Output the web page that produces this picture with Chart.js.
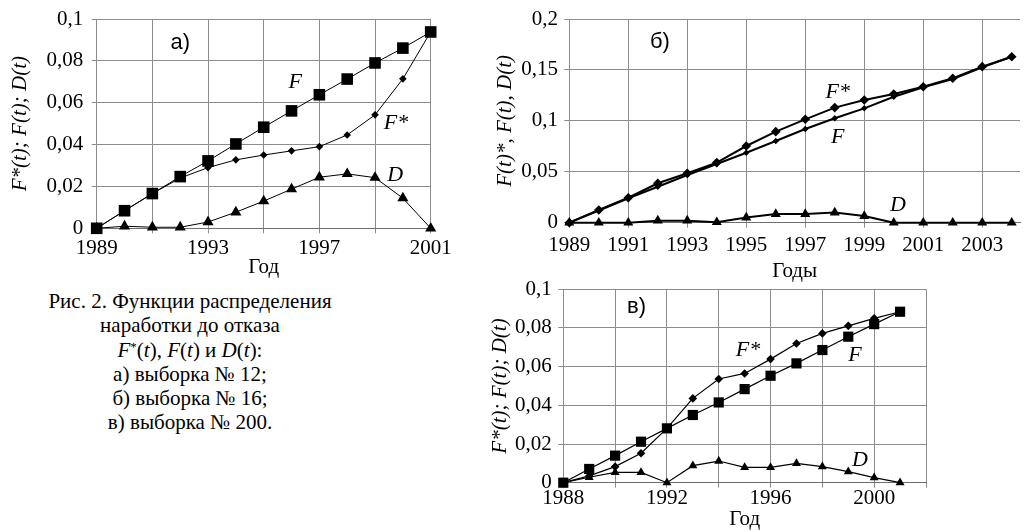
<!DOCTYPE html>
<html>
<head>
<meta charset="utf-8">
<script src="https://cdn.jsdelivr.net/npm/chart.js@4"></script>
<style>
  html, body { margin:0; padding:0; background:#fff; }
  body { width:1032px; height:532px; position:relative; overflow:hidden; }
  canvas { position:absolute; }
  #cap { position:absolute; left:40px; width:300px; top:289px; text-align:center;
         font-family:"Liberation Serif","DejaVu Serif","Noto Serif",serif; font-size:21px; line-height:24.3px; color:#000; }
  #cap sup { font-size:13px; vertical-align:top; position:relative; top:-3px; }
  #probe { position:absolute; left:-9999px; top:0; }
</style>
</head>
<body>
<canvas id="ca" width="460" height="285" style="left:0;top:0"></canvas>
<canvas id="cb" width="552" height="285" style="left:480px;top:0"></canvas>
<canvas id="cc" width="470" height="262" style="left:480px;top:270px"></canvas>
<div id="cap">Рис. 2. Функции распределения<br>наработки до отказа<br><i>F</i><sup>*</sup>(<i>t</i>), <i>F</i>(<i>t</i>) и <i>D</i>(<i>t</i>):<br>а) выборка № 12;<br>б) выборка № 16;<br>в) выборка № 200.</div>
<script>
// ---- Chart а) выборка № 12 ----
const yearsA  = [1989,1990,1991,1992,1993,1994,1995,1996,1997,1998,1999,2000,2001];
const FstarA  = [0,0.0084,0.0166,0.024,0.029,0.0327,0.035,0.037,0.039,0.0446,0.0542,0.0714,0.0938];
const FA      = [0,0.0084,0.0166,0.0247,0.0322,0.0403,0.0483,0.0561,0.0638,0.0713,0.079,0.0861,0.0938];
const DA      = [0,0.001,0.0005,0.0005,0.003,0.0077,0.013,0.0187,0.0244,0.026,0.0242,0.0144,0];
const xLabelsA = [1989,1993,1997,2001];
const yTicksA  = [0,0.02,0.04,0.06,0.08,0.1];

// ---- Chart б) выборка № 16 ----
const yearsB  = [1989,1990,1991,1992,1993,1994,1995,1996,1997,1998,1999,2000,2001,2002,2003,2004];
const FstarB  = [0,0.0125,0.0245,0.0387,0.0485,0.059,0.0753,0.0894,0.1015,0.113,0.1205,0.1264,0.1335,0.1418,0.1532,0.163];
const FB      = [0,0.012,0.024,0.0353,0.0468,0.0576,0.0687,0.0802,0.092,0.1025,0.1123,0.1237,0.133,0.141,0.1526,0.163];
const DB      = [0,0,0,0.002,0.002,0.0005,0.005,0.0085,0.0085,0.01,0.0065,0,0,0,0,0];
const xLabelsB = [1989,1991,1993,1995,1997,1999,2001,2003];
const yTicksB  = [0,0.05,0.1,0.15,0.2];

// ---- Chart в) выборка № 200 ----
const yearsC  = [1988,1989,1990,1991,1992,1993,1994,1995,1996,1997,1998,1999,2000,2001];
const FstarC  = [0,0.0035,0.0083,0.0152,0.0281,0.0436,0.0536,0.0565,0.0639,0.072,0.0772,0.0811,0.085,0.0884];
const FC      = [0,0.0071,0.014,0.0212,0.0281,0.035,0.0415,0.0484,0.0553,0.0617,0.0686,0.0755,0.082,0.0884];
const DC      = [0,0.0028,0.0053,0.0053,0,0.0088,0.0112,0.0079,0.0079,0.01,0.0083,0.0057,0.0026,0];
const xLabelsC = [1988,1992,1996,2000];
const yTicksC  = [0,0.02,0.04,0.06,0.08,0.1];

const SERIF = "'Liberation Serif', 'DejaVu Serif', 'Noto Serif', serif";
const SANS  = "'Liberation Sans', Arial, sans-serif";
const GRID  = '#8c8c8c';

const pts = (xs, ys) => xs.map((x, i) => ({x, y: ys[i]}));
const fmtY = v => v === 0 ? '0' : String(Number(v.toFixed(4))).replace('.', ',');

const labelPlugin = {
  id: 'lbl',
  afterDatasetsDraw(chart, args, opts) {
    const {ctx, scales: {x, y}} = chart;
    (opts.items || []).forEach(it => {
      ctx.save();
      ctx.font = it.font;
      ctx.fillStyle = '#000';
      ctx.textAlign = 'center';
      ctx.textBaseline = 'middle';
      ctx.fillText(it.text, x.getPixelForValue(it.x), y.getPixelForValue(it.y));
      ctx.restore();
    });
  }
};

function ds(data, style, r, lw) {
  return {
    data, pointStyle: style, pointRadius: r, pointHoverRadius: r,
    pointBackgroundColor: '#000', pointBorderColor: '#000', pointBorderWidth: 0,
    borderColor: '#000', borderWidth: lw, tension: 0, clip: false
  };
}

function makeChart(id, cfg) {
  return new Chart(document.getElementById(id), {
    type: 'line',
    data: { datasets: cfg.datasets },
    plugins: [labelPlugin],
    options: {
      responsive: false, animation: false, devicePixelRatio: 1,
      layout: { padding: { left: 0, top: cfg.padTop, right: cfg.padRight, bottom: 0 } },
      plugins: { legend: { display: false }, tooltip: { enabled: false }, lbl: { items: cfg.items } },
      scales: {
        x: {
          type: 'linear', min: cfg.xMin, max: cfg.xMax,
          afterBuildTicks: s => {
            const t = [];
            for (let v = cfg.xMin; v <= cfg.xMax + 1e-9; v += 2) t.push({value: v});
            s.ticks = t;
          },
          afterFit: s => { s.height = cfg.xH; },
          grid: { color: GRID, lineWidth: 1, drawTicks: true, tickLength: 5, tickColor: GRID },
          border: { color: '#6e6e6e', width: 1 },
          ticks: {
            autoSkip: false, maxRotation: 0, color: '#000', padding: cfg.xTickPad,
            font: { family: SERIF, size: 21, lineHeight: 1 },
            callback: v => cfg.xLabels.includes(v) ? String(v) : ''
          },
          title: { display: true, text: cfg.xTitle, color: '#000',
                   font: { family: SERIF, size: 21, lineHeight: 1 },
                   padding: { top: 0, bottom: cfg.xTitlePad } }
        },
        y: {
          type: 'linear', min: 0, max: cfg.yTicks[cfg.yTicks.length - 1],
          afterBuildTicks: s => { s.ticks = cfg.yTicks.map(v => ({value: v})); },
          afterFit: s => { s.width = cfg.yW; },
          grid: { color: GRID, lineWidth: 1, drawTicks: true, tickLength: 5, tickColor: GRID },
          border: { color: GRID, width: 1 },
          ticks: { color: '#000', padding: cfg.yTickPad,
                   font: { family: SERIF, size: 21, lineHeight: 1 }, callback: fmtY },
          title: { display: true, text: cfg.yTitle, color: '#000',
                   font: { family: SERIF, size: 21, style: 'italic', lineHeight: 1 },
                   padding: { top: cfg.yTitlePad, bottom: 0 } }
        }
      }
    }
  });
}

const IT = 'italic 22px ' + SERIF;
const PN = '22px ' + SANS;

makeChart('ca', {
  datasets: [
    ds(pts(yearsA, DA), 'triangle', 6.4, 1),
    ds(pts(yearsA, FstarA), 'rectRot', 3.8, 1),
    ds(pts(yearsA, FA), 'rect', 8.2, 1)
  ],
  xMin: 1989, xMax: 2001, xLabels: xLabelsA, yTicks: yTicksA,
  padTop: 19, padRight: 29.3, xH: 56.7, yW: 96.7,
  xTickPad: 5, xTitlePad: 7.5, yTickPad: 8.4, yTitlePad: 10,
  xTitle: 'Год', yTitle: 'F*(t); F(t); D(t)',
  items: [
    {text: 'а)', x: 1992.0, y: 0.0887, font: PN},
    {text: 'F', x: 1996.13, y: 0.0699, font: IT},
    {text: 'F*', x: 1999.75, y: 0.0503, font: IT},
    {text: 'D', x: 1999.72, y: 0.0255, font: IT}
  ]
});

makeChart('cb', {
  datasets: [
    ds(pts(yearsB, DB), 'triangle', 5.8, 2),
    ds(pts(yearsB, FB), 'rectRot', 3.2, 2),
    ds(pts(yearsB, FstarB), 'rectRot', 4.8, 2)
  ],
  xMin: 1989, xMax: 2004.28, xLabels: xLabelsB, yTicks: yTicksB,
  padTop: 19, padRight: 12, xH: 62.3, yW: 89.3,
  xTickPad: 6.8, xTitlePad: 3.5, yTickPad: 6.3, yTitlePad: 15,
  xTitle: 'Годы', yTitle: 'F(t)*, F(t), D(t)',
  items: [
    {text: 'б)', x: 1992.07, y: 0.1777, font: PN},
    {text: 'F*', x: 1998.1, y: 0.1283, font: IT},
    {text: 'F', x: 1998.1, y: 0.0841, font: IT},
    {text: 'D', x: 2000.14, y: 0.0174, font: IT}
  ]
});

makeChart('cc', {
  datasets: [
    ds(pts(yearsC, DC), 'triangle', 5.2, 1.2),
    ds(pts(yearsC, FstarC), 'rectRot', 4.3, 1.2),
    ds(pts(yearsC, FC), 'rect', 7.2, 1.2)
  ],
  xMin: 1988, xMax: 2002, xLabels: xLabelsC, yTicks: yTicksC,
  padTop: 19.3, padRight: 24, xH: 49.3, yW: 83.3,
  xTickPad: 0, xTitlePad: 2.5, yTickPad: 6.6, yTitlePad: 10,
  xTitle: 'Год', yTitle: 'F*(t); F(t); D(t)',
  items: [
    {text: 'в)', x: 1990.83, y: 0.091, font: PN},
    {text: 'F*', x: 1995.13, y: 0.0686, font: IT},
    {text: 'F', x: 1999.26, y: 0.066, font: IT},
    {text: 'D', x: 1999.45, y: 0.0117, font: IT}
  ]
});
</script>
</body>
</html>
